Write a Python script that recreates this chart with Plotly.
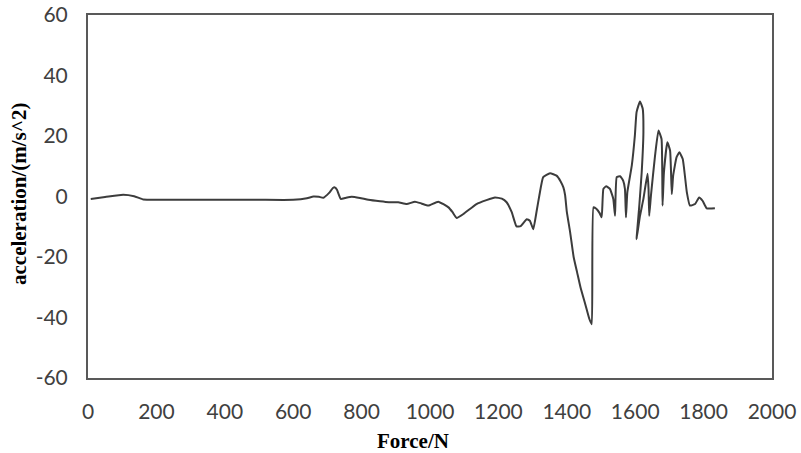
import plotly.graph_objects as go

force = [8, 50, 103, 135, 162, 200, 300, 400, 500, 600, 640, 659, 675, 688, 705, 716, 722, 728, 739, 752, 771, 795, 820, 854, 880, 907,
         932, 956, 975, 995, 1024, 1054, 1066, 1078, 1100, 1136, 1165, 1190, 1210, 1224, 1239, 1253, 1265, 1283, 1292, 1302,
         1312, 1320, 1331, 1351, 1370, 1382, 1390, 1395, 1400, 1410, 1420, 1430, 1440, 1455, 1466, 1473,
         1478, 1487, 1496, 1502, 1507, 1515, 1526, 1536, 1541, 1546, 1556, 1565, 1570, 1573, 1577, 1590, 1599, 1604,
         1614, 1622, 1624, 1619, 1612, 1604, 1614, 1624, 1636, 1639, 1641, 1646, 1658, 1668, 1677, 1680, 1684, 1694,
         1702, 1707, 1711, 1721, 1729, 1739, 1751, 1760, 1775, 1787, 1797, 1809, 1833]
accel = [-0.8, -0.2, 0.6, 0.1, -1.0, -1.1, -1.1, -1.1, -1.1, -1.1, -0.6, 0.0, -0.1, -0.4, 1.2, 2.8, 3.0, 2.2, -0.8, -0.5, -0.1, -0.5, -1.1, -1.6, -1.9, -1.9,
         -2.5, -1.7, -2.3, -3.0, -1.7, -3.6, -5.2, -7.1, -5.6, -2.5, -1.2, -0.3, -0.7, -1.9, -5.2, -9.9, -9.8, -7.5, -8.0, -10.8,
         -4.7, 0.5, 6.4, 7.7, 6.9, 5.0, 3.0, 0.5, -5.0, -12.0, -20.0, -25.0, -30.0, -36.0, -40.5, -42.2,
         -3.6, -4.1, -5.5, -6.9, 2.5, 3.4, 2.5, -0.8, -6.4, 6.4, 6.7, 5.2, 2.5, -6.9, 1.4, 10.2, 20.1, 27.9,
         31.4, 29.0, 21.3, 8.0, -3.0, -14.1, -6.4, -0.8, 7.5, 2.5, -6.4, 0.3, 13.5, 21.8, 19.0, -3.0, 8.0, 17.9,
         15.2, 0.8, 6.9, 13.0, 14.6, 12.4, 1.4, -3.0, -2.5, -0.3, -1.4, -3.9, -3.9]

x_ticks = [0, 200, 400, 600, 800, 1000, 1200, 1400, 1600, 1800, 2000]
y_ticks = [-60, -40, -20, 0, 20, 40, 60]
x_title = "Force/N"
y_title = "acceleration/(m/s^2)"

fig = go.Figure()
fig.add_trace(go.Scatter(x=force, y=accel, mode="lines",
                         line=dict(color="#3c3c3c", width=2, shape="spline", smoothing=0.4),
                         showlegend=False, hoverinfo="skip"))

tick_font = dict(family="Lato, Open Sans, sans-serif", size=21, color="#404040")
title_font = dict(family="Liberation Serif, Times New Roman, serif", size=21, color="#000000")

fig.update_layout(
    width=801, height=453,
    margin=dict(l=88, r=29, t=15, b=75),
    paper_bgcolor="white", plot_bgcolor="white",
    xaxis=dict(range=[0, 2000], tickvals=x_ticks, ticktext=[str(v) for v in x_ticks],
               showgrid=False, zeroline=False, showline=True, mirror=True,
               linecolor="#595959", linewidth=2, ticks="", tickfont=tick_font,
               ticklabelstandoff=14, automargin=False),
    yaxis=dict(range=[-60, 60], tickvals=y_ticks, ticktext=[str(v) for v in y_ticks],
               showgrid=False, zeroline=False, showline=True, mirror=True,
               linecolor="#595959", linewidth=2, ticks="", tickfont=tick_font,
               ticklabelstandoff=14, automargin=False),
    annotations=[
        dict(text="<b>" + x_title + "</b>", xref="paper", yref="paper", x=(413 - 88) / 684, y=-(441 - 378) / 363,
             xanchor="center", yanchor="middle", showarrow=False, font=title_font),
        dict(text="<b>" + y_title + "</b>", xref="paper", yref="paper", x=-(88 - 19) / 684, y=(378 - 194) / 363,
             xanchor="center", yanchor="middle", showarrow=False, textangle=-90, font=title_font),
    ],
)

fig.write_html("out.html", config={"displayModeBar": False},
               post_script="document.body.style.margin='0';document.body.style.overflow='hidden';")
